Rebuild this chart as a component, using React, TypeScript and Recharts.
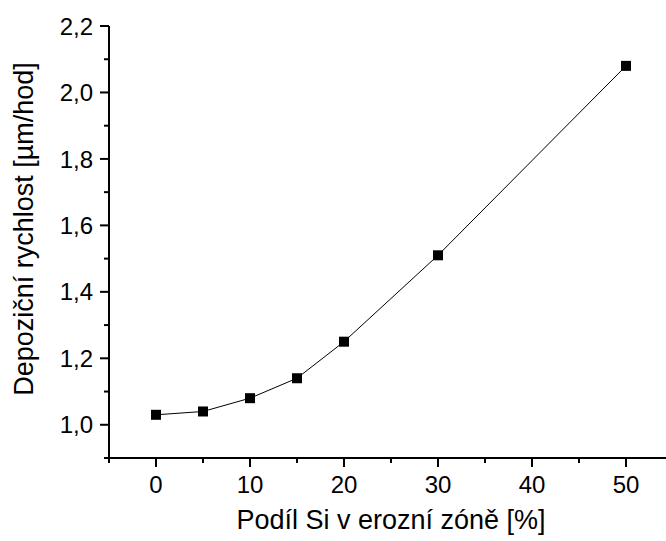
import { Line, LineChart, XAxis, YAxis } from "recharts"

/******************************************************************************
                              Data
******************************************************************************/

const SI_SHARE = [0, 5, 10, 15, 20, 30, 50]
const DEPOSITION_RATE = [1.03, 1.04, 1.08, 1.14, 1.25, 1.51, 2.08]

const X_TICKS = [-5, 0, 5, 10, 15, 20, 25, 30, 35, 40, 45, 50, 55]
const X_LABELS = [0, 10, 20, 30, 40, 50]
const Y_TICKS = [0.9, 1.0, 1.1, 1.2, 1.3, 1.4, 1.5, 1.6, 1.7, 1.8, 1.9, 2.0, 2.1, 2.2]
const Y_LABELS = [1.0, 1.2, 1.4, 1.6, 1.8, 2.0, 2.2]

const X_TITLE = "Podíl Si v erozní zóně [%]"
const Y_TITLE = "Depoziční rychlost [µm/hod]"

/******************************************************************************
                              Constants
******************************************************************************/

const FONT = "'Liberation Sans', Arial, sans-serif"
const TICK_FONT = 24
const TITLE_FONT = 27
const MAJOR = 9
const MINOR = 5
const AXIS_W = 2

const chartData = SI_SHARE.map((x, i) => ({ x, y: DEPOSITION_RATE[i] }))

function isLabelled(list: number[], v: number) {
  return list.some((l) => Math.abs(l - v) < 1e-6)
}

function fmtY(v: number) {
  return v.toFixed(1).replace(".", ",")
}

/******************************************************************************
                              Ticks
******************************************************************************/

function BottomTick(props: any) {
  const { x, y, payload } = props
  const labelled = isLabelled(X_LABELS, payload.value)
  return (
    <g>
      <line x1={x} x2={x} y1={y} y2={y + (labelled ? MAJOR : MINOR)} stroke="#000" strokeWidth={AXIS_W} />
      {labelled && (
        <text x={x} y={y + 35} textAnchor="middle" fontSize={TICK_FONT} fontFamily={FONT} fill="#000">
          {payload.value}
        </text>
      )}
    </g>
  )
}

function TopTick(props: any) {
  const { x, y, payload } = props
  const major = isLabelled(X_LABELS, payload.value)
  return <line x1={x} x2={x} y1={y} y2={y + (major ? MAJOR : MINOR)} stroke="#000" strokeWidth={AXIS_W} />
}

function LeftTick(props: any) {
  const { x, y, payload } = props
  const labelled = isLabelled(Y_LABELS, payload.value)
  return (
    <g>
      <line x1={x} x2={x - (labelled ? MAJOR : MINOR)} y1={y} y2={y} stroke="#000" strokeWidth={AXIS_W} />
      {labelled && (
        <text x={x - 16} y={y} dy="0.36em" textAnchor="end" fontSize={TICK_FONT} fontFamily={FONT} fill="#000">
          {fmtY(payload.value)}
        </text>
      )}
    </g>
  )
}

function RightTick(props: any) {
  const { x, y, payload } = props
  const labelled = isLabelled(Y_LABELS, payload.value)
  return <line x1={x} x2={x - (labelled ? MAJOR : MINOR)} y1={y} y2={y} stroke="#000" strokeWidth={AXIS_W} />
}

function SquareDot(props: any) {
  const { cx, cy } = props
  if (cx == null || cy == null) return null
  return <rect x={cx - 5} y={cy - 5} width={10} height={10} fill="#000" />
}

/******************************************************************************
                              Component
******************************************************************************/

export default function App() {
  const axisLine = { stroke: "#000", strokeWidth: AXIS_W }
  return (
    <div style={{ position: "absolute", left: 0, top: 0, width: 666, height: 541, overflow: "hidden", background: "#fff" }}>
      <LineChart width={690} height={541} data={chartData} margin={{ top: 26, right: 17, bottom: 0, left: 0 }}>
        <XAxis
          xAxisId="bottom"
          dataKey="x"
          type="number"
          domain={[-5, 55]}
          ticks={X_TICKS}
          interval={0}
          height={83}
          tickSize={0}
          tickMargin={0}
          tickLine={false}
          stroke="#000"
          axisLine={axisLine}
          tick={BottomTick}
          allowDataOverflow
          label={{
            content: (p: any) => {
              const vb = p.viewBox
              return (
                <text x={vb.x + vb.width / 2} y={vb.y + 71} textAnchor="middle" fontSize={TITLE_FONT} fontFamily={FONT} fill="#000">
                  {X_TITLE}
                </text>
              )
            },
          }}
        />
        <XAxis
          xAxisId="top"
          orientation="top"
          dataKey="x"
          type="number"
          domain={[-5, 55]}
          ticks={X_TICKS}
          interval={0}
          height={0}
          tickSize={0}
          tickMargin={0}
          tickLine={false}
          stroke="#000"
          axisLine={axisLine}
          tick={TopTick}
          allowDataOverflow
        />
        <YAxis
          yAxisId="left"
          type="number"
          domain={[0.9, 2.2]}
          ticks={Y_TICKS}
          interval={0}
          width={109}
          tickSize={0}
          tickMargin={0}
          tickLine={false}
          stroke="#000"
          axisLine={axisLine}
          tick={LeftTick}
          allowDataOverflow
          label={{
            content: (p: any) => {
              const vb = p.viewBox
              return (
                <text
                  transform={`translate(${vb.x + 33}, 229) rotate(-90)`}
                  textAnchor="middle"
                  fontSize={TITLE_FONT}
                  fontFamily={FONT}
                  fill="#000"
                >
                  {Y_TITLE}
                </text>
              )
            },
          }}
        />
        <YAxis
          yAxisId="right"
          orientation="right"
          type="number"
          domain={[0.9, 2.2]}
          ticks={Y_TICKS}
          interval={0}
          width={0}
          tickSize={0}
          tickMargin={0}
          tickLine={false}
          stroke="#000"
          axisLine={axisLine}
          tick={RightTick}
          allowDataOverflow
        />
        <Line
          xAxisId="bottom"
          yAxisId="left"
          type="linear"
          dataKey="y"
          stroke="#000"
          strokeWidth={1}
          dot={SquareDot}
          activeDot={false}
          isAnimationActive={false}
        />
      </LineChart>
    </div>
  )
}
